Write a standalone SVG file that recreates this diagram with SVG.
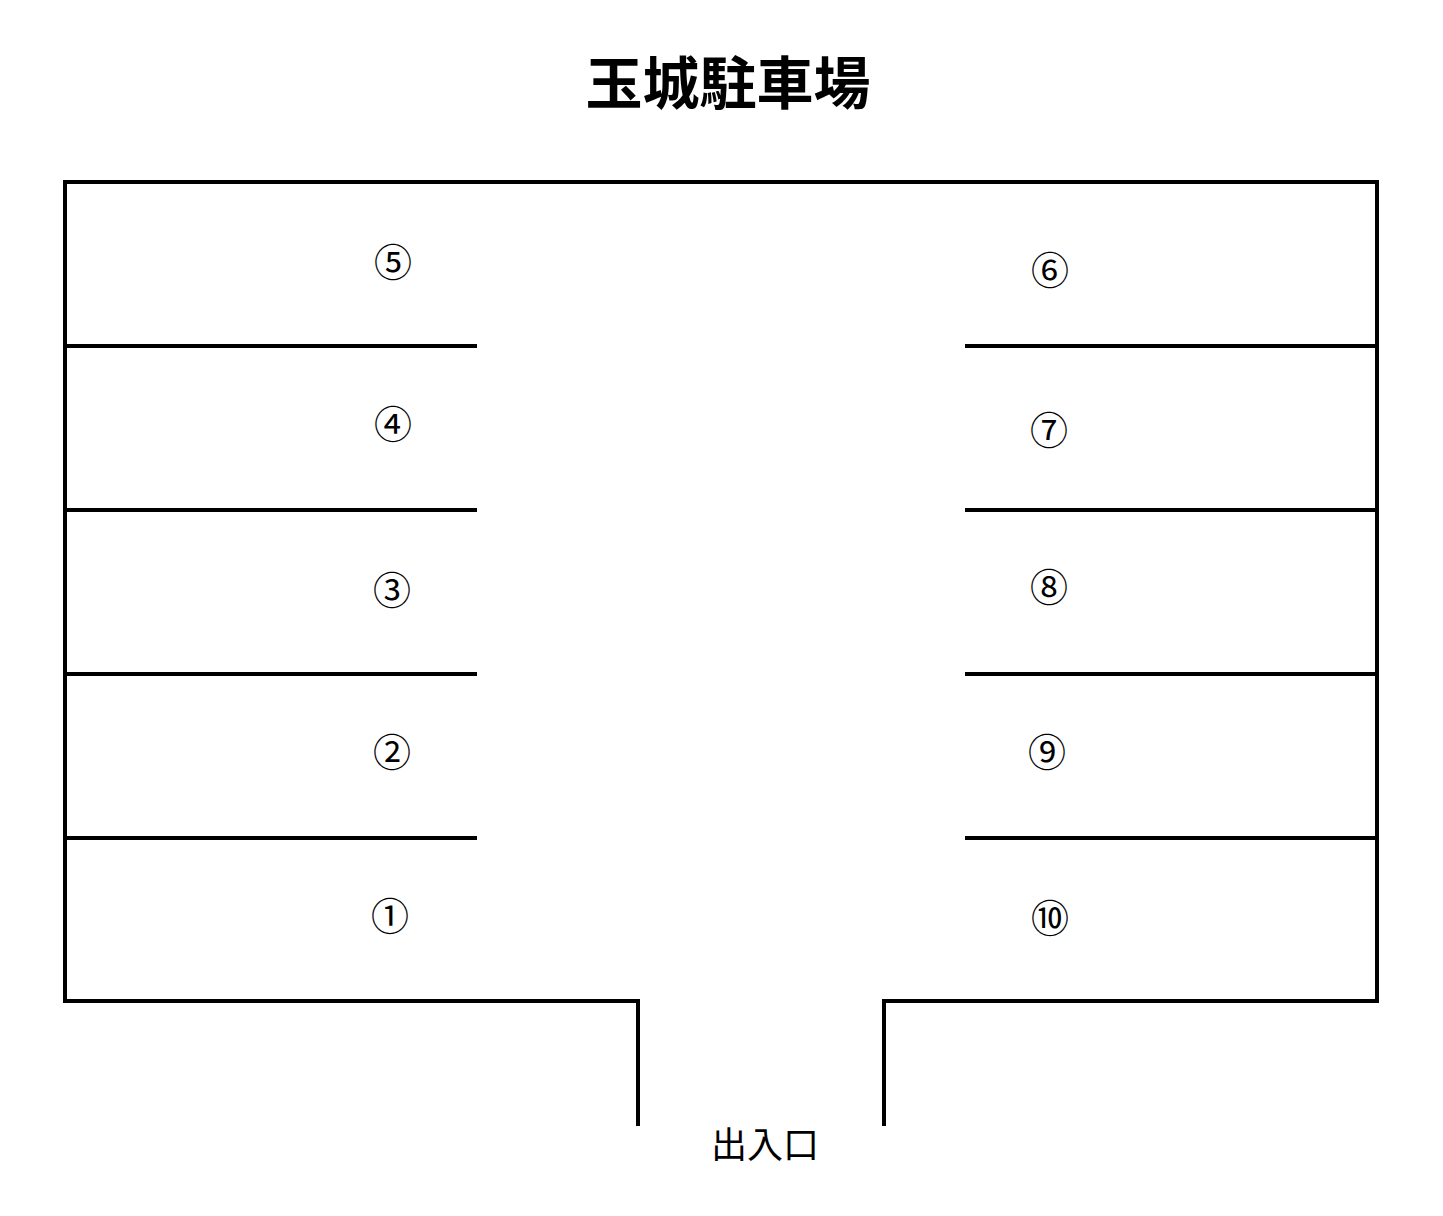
<svg xmlns="http://www.w3.org/2000/svg" width="1443" height="1216" viewBox="0 0 1443 1216">
<style>
.l{stroke:#000;stroke-width:4;fill:none}
.n{font-family:"Noto Sans CJK JP","DejaVu Sans",sans-serif;font-size:38px;text-anchor:middle;dominant-baseline:central}
</style>
<rect width="1443" height="1216" fill="#fff"/>
<text x="728" y="79" font-family="Noto Sans CJK JP,sans-serif" font-size="57" font-weight="bold" text-anchor="middle" dominant-baseline="central">玉城駐車場</text>
<g id="walls">
<path class="l" d="M638,1126 V1001 H65 V182 H1377 V1001 H884 V1126"/>
<path class="l" d="M65,346 H477 M65,510 H477 M65,674 H477 M65,838 H477 M965,346 H1377 M965,510 H1377 M965,674 H1377 M965,838 H1377"/>
</g>
<g id="labels">
<text class="n" x="393" y="259">⑤</text>
<text class="n" x="393" y="421">④</text>
<text class="n" x="392" y="587">③</text>
<text class="n" x="392" y="749">②</text>
<text class="n" x="390" y="913">①</text>
<text class="n" x="1050" y="267">⑥</text>
<text class="n" x="1049" y="427">⑦</text>
<text class="n" x="1049" y="584">⑧</text>
<text class="n" x="1047" y="749">⑨</text>
<text class="n" x="1050" y="915">⑩</text>
</g>
<text x="765" y="1142" font-family="Noto Sans CJK JP,sans-serif" font-size="36" text-anchor="middle" dominant-baseline="central">出入口</text>
</svg>
